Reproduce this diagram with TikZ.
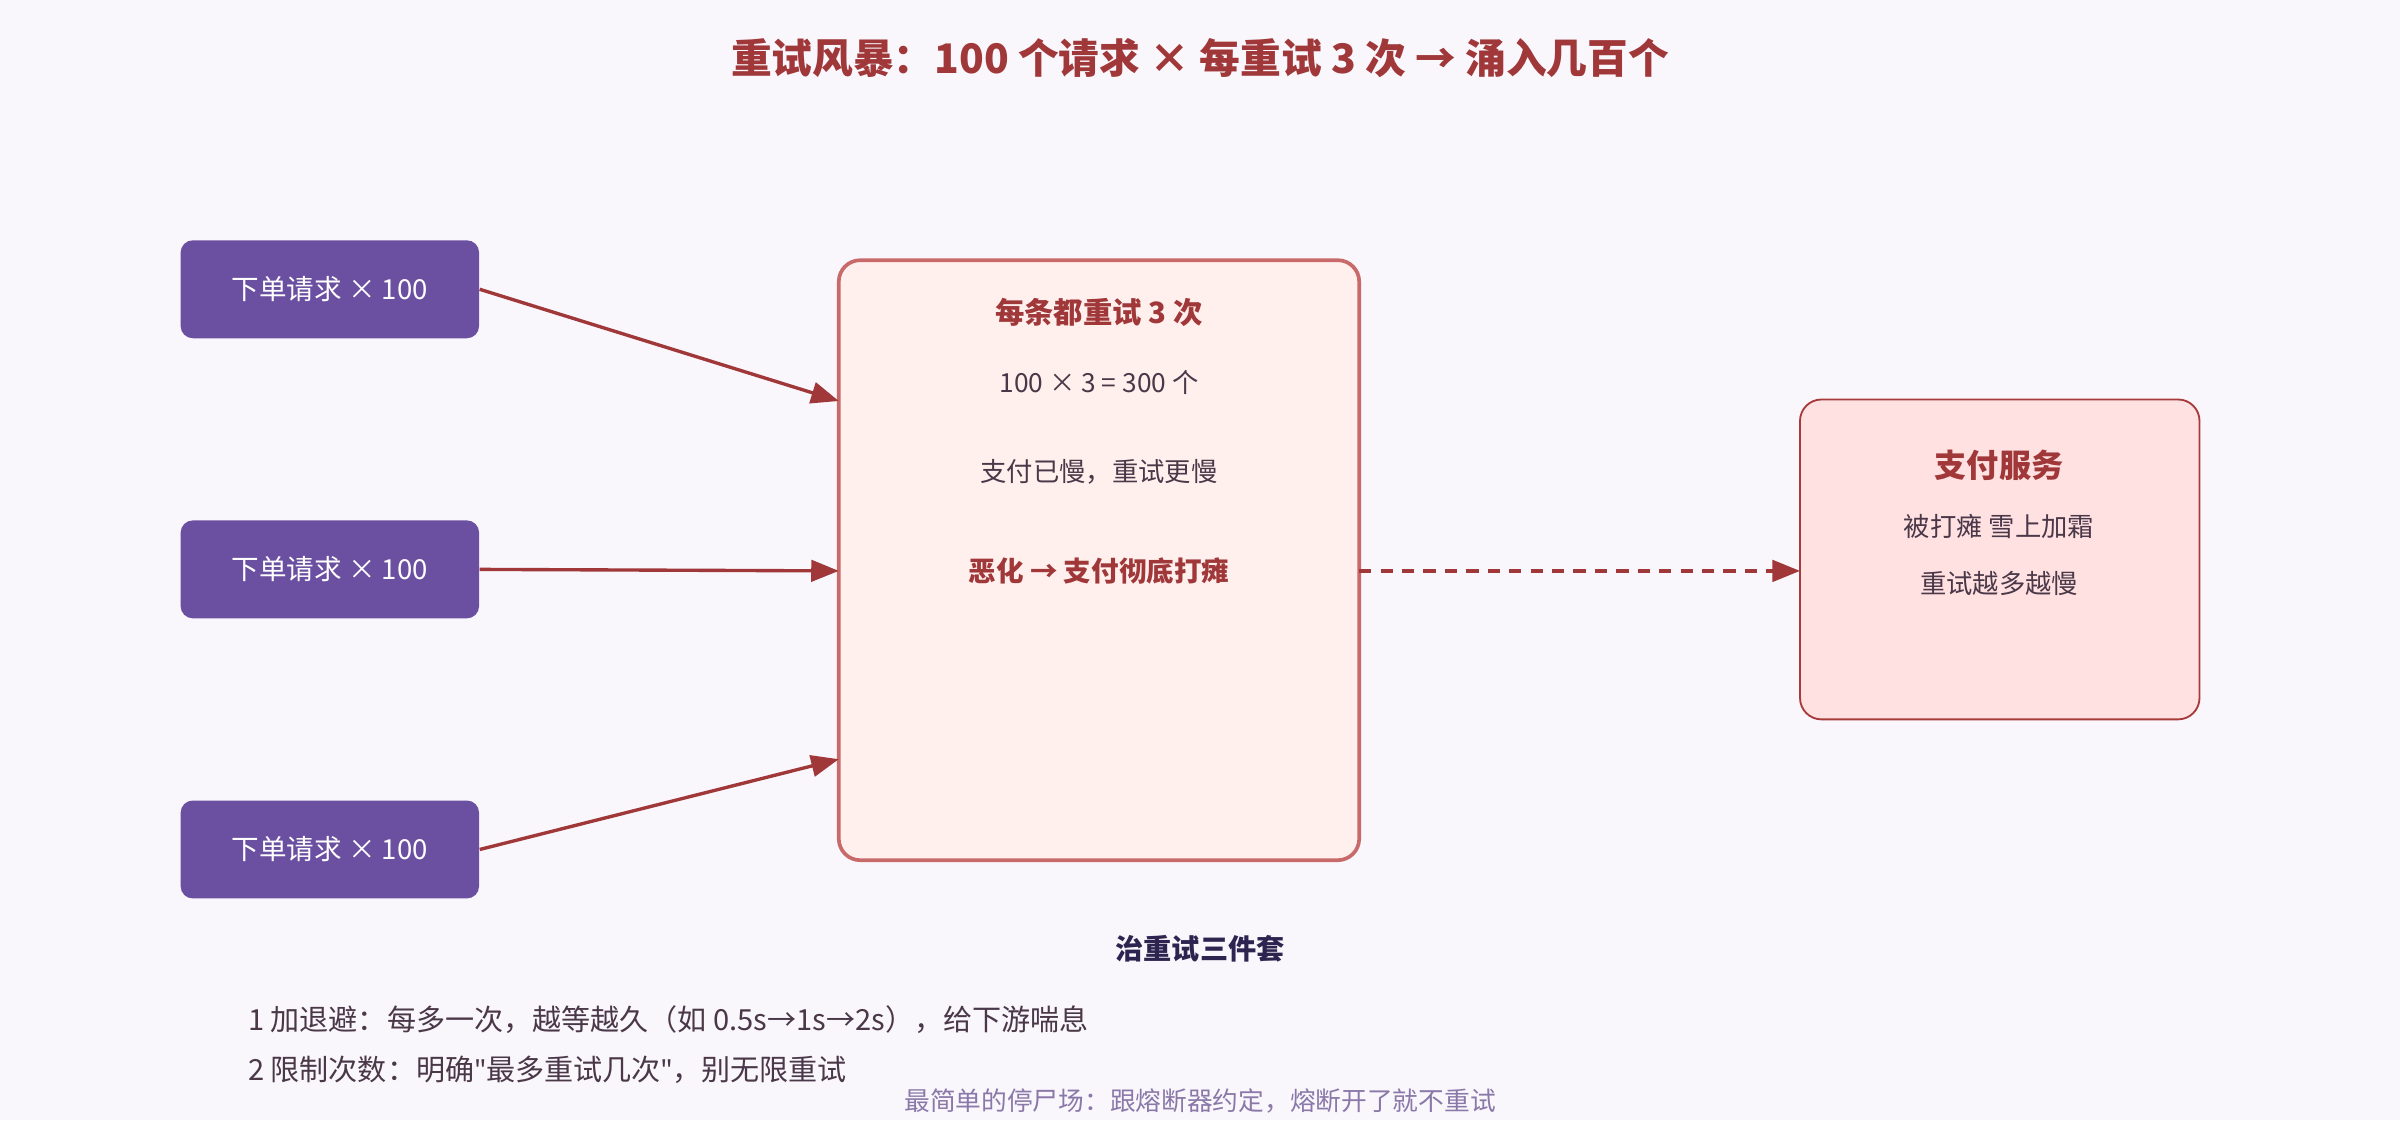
\documentclass[tikz,border=0pt]{standalone}
\usepackage{fontspec}
\setmainfont{Noto Sans CJK SC}
\newfontfamily\quotefont{Noto Sans}
\usetikzlibrary{arrows.meta}
\definecolor{bgcol}{HTML}{F9F6FC}
\definecolor{darkred}{HTML}{A0383A}
\definecolor{reqfill}{HTML}{6B4FA0}
\definecolor{midfill}{HTML}{FFF0EE}
\definecolor{midline}{HTML}{C86A6A}
\definecolor{payfill}{HTML}{FFE1E2}
\definecolor{payline}{HTML}{A83A3A}
\definecolor{bodytxt}{HTML}{4A3848}
\definecolor{navy}{HTML}{2E2450}
\definecolor{notetxt}{HTML}{8A78A8}
\newcommand{\dq}{{\quotefont\char"22}}
\tikzset{
  req/.style={draw=none, fill=reqfill, rounded corners=4pt, minimum width=97.5pt,
    minimum height=32pt, text=white, font=\fontsize{9}{11}\selectfont},
  flow/.style={-{Triangle[length=9pt,width=7pt]}, draw=darkred, line width=1.1pt},
  txt/.style={text=bodytxt, font=\fontsize{8.6}{10}\selectfont},
  hot/.style={text=darkred, font=\fontsize{9}{10}\selectfont\bfseries},
}
\begin{document}
\begin{tikzpicture}[x=0.5pt,y=-0.5pt]
\fill[bgcol] (0,0) rectangle (1568,732);
\useasboundingbox (0,0) rectangle (1568,732);

% Title
\node[text=darkred, font=\fontsize{13.3}{15}\selectfont\bfseries] (title) at (784,38)
  {重试风暴：100 个请求 × 每重试 3 次 → 涌入几百个};

% Incoming requests
\node[req] (r1) at (215.5,189) {下单请求 × 100};
\node[req] (r2) at (215.5,372) {下单请求 × 100};
\node[req] (r3) at (215.5,555) {下单请求 × 100};

% Retry box
\draw[fill=midfill, draw=midline, line width=1.2pt, rounded corners=7pt] (548,170) rectangle (888,562);
\coordinate (m1) at (548,262);
\coordinate (m2) at (548,373);
\coordinate (m3) at (548,496);
\coordinate (mout) at (888,373);
\node[hot, font=\fontsize{9.6}{11}\selectfont\bfseries] (mt) at (718,204) {每条都重试 3 次};
\node[txt] (ma) at (718,250) {100 × 3 = 300 个};
\node[txt] (mb) at (718,308) {支付已慢，重试更慢};
\node[hot] (mc) at (718,373) {恶化 → 支付彻底打瘫};

% Payment service
\draw[fill=payfill, draw=payline, line width=0.6pt, rounded corners=7pt] (1176,261) rectangle (1437,470);
\coordinate (pin) at (1176,373);
\node[hot, font=\fontsize{10.5}{12}\selectfont\bfseries] (pt) at (1306,304) {支付服务};
\node[txt] (pa) at (1306,344) {被打瘫 雪上加霜};
\node[txt] (pb) at (1306,381) {重试越多越慢};

% Arrows
\draw[flow] (r1.east) -- (m1);
\draw[flow] (r2.east) -- (m2);
\draw[flow] (r3.east) -- (m3);
\draw[flow, dashed, dash pattern=on 4pt off 3pt] (mout) -- (pin);

% Remedies
\node[text=navy, font=\fontsize{9.2}{10}\selectfont\bfseries] (fix) at (784,620) {治重试三件套};
\node[txt, anchor=west, font=\fontsize{9.5}{10}\selectfont] (f1) at (155,666)
  {1 加退避：每多一次，越等越久（如 0.5s→1s→2s），给下游喘息};
\node[txt, anchor=west, font=\fontsize{9.5}{10}\selectfont] (f2) at (155,699)
  {2 限制次数：明确\dq 最多重试几次\dq，别无限重试};
\node[text=notetxt, font=\fontsize{8.4}{9}\selectfont] (f3) at (784,719)
  {最简单的停尸场：跟熔断器约定，熔断开了就不重试};
\end{tikzpicture}
\end{document}
